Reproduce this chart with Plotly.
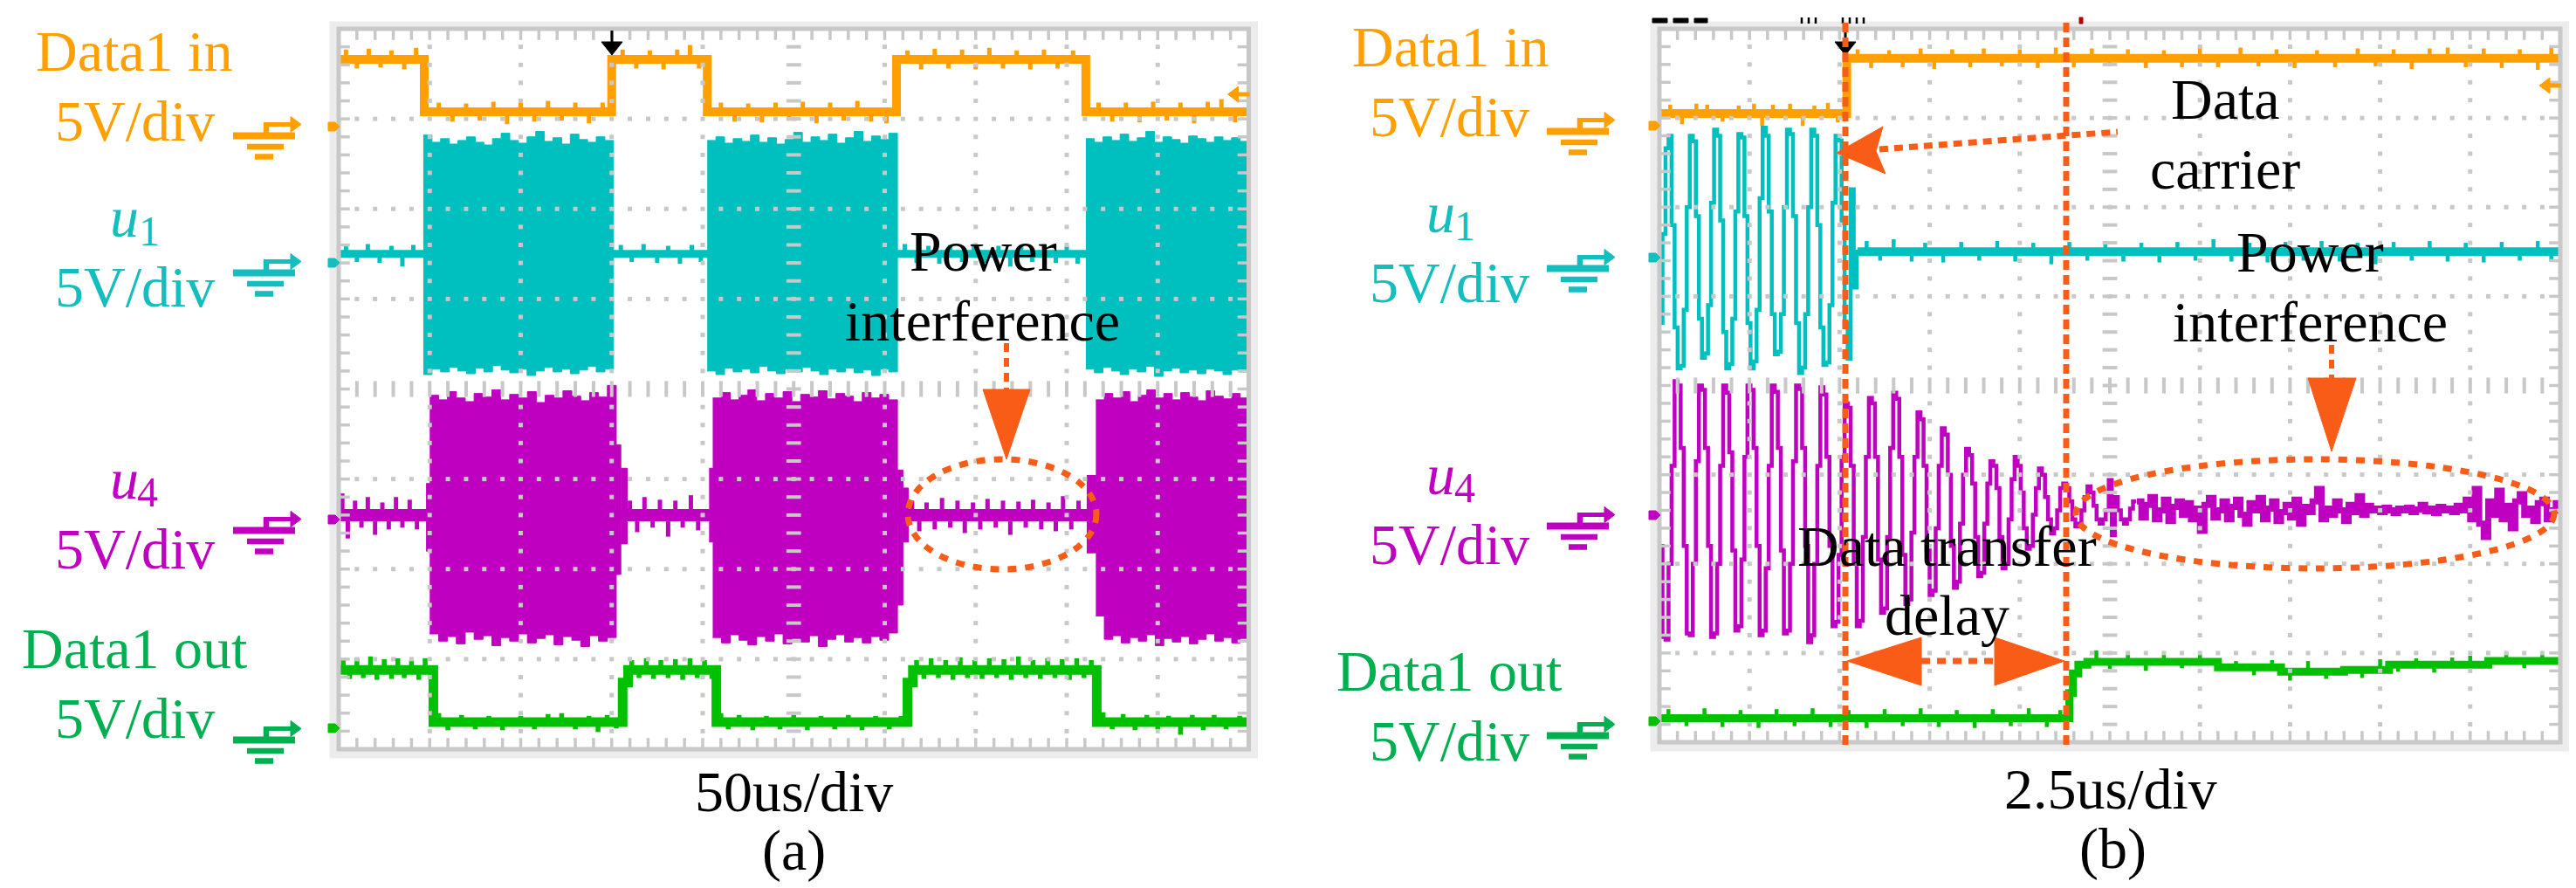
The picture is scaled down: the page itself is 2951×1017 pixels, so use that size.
import numpy as np
import plotly.graph_objects as go

W, H = 2951, 1017
SERIF = "Liberation Serif"
FS = 66

ORANGE, CYAN, CYAN_TXT = "#FFA000", "#00BFBF", "#14BDBE"
MAGENTA, GREEN, GREEN_TXT = "#C000C0", "#00C000", "#00B050"
ANN, GRID, BAND, BLACK = "#F85C16", "#C8C8C8", "#ECECEC", "#000000"

# frames in px (left, right, top, bottom); 10 x 8 divisions
FRAME_A = (380.0, 1422.5, 25.0, 850.0)
FRAME_B = (1893.0, 2925.0, 25.0, 842.0)

# ================= data, panel (a) 50us/div (screen divisions) =================
a_in_edges = [0, 0.94, 3.00, 4.05, 6.13, 8.21, 10]
a_in_levels = [7.66, 7.08, 7.66, 7.08, 7.66, 7.08]
a_in_spikes = [(0.08, 0.11), (0.2, -0.1), (0.33, 0.12), (0.46, -0.09), (0.58, 0.1), (0.72, -0.11), (0.85, 0.13),
               (1.1, 0.1), (1.25, -0.11), (1.4, 0.09), (1.55, -0.1), (1.7, 0.11), (1.85, -0.14), (2.0, 0.1),
               (2.15, -0.11), (2.3, 0.12), (2.45, -0.1), (2.6, 0.1), (2.75, -0.13), (2.9, 0.1),
               (3.12, 0.11), (3.27, -0.1), (3.42, 0.1), (3.57, -0.11), (3.72, 0.11), (3.86, 0.16), (3.96, -0.1),
               (4.2, 0.1), (4.35, -0.11), (4.5, 0.09), (4.65, -0.12), (4.8, 0.1), (4.95, -0.1), (5.1, 0.11),
               (5.25, -0.13), (5.4, 0.1), (5.55, -0.1), (5.7, 0.12), (5.85, -0.11), (6.02, -0.13),
               (6.25, 0.1), (6.4, -0.11), (6.55, 0.12), (6.7, -0.1), (6.85, 0.11), (7.0, -0.11), (7.15, 0.13),
               (7.3, -0.1), (7.45, 0.1), (7.6, -0.11), (7.75, 0.11), (7.9, -0.1), (8.07, 0.1),
               (8.35, 0.1), (8.5, -0.11), (8.65, 0.1), (8.8, -0.12), (8.95, 0.11), (9.1, -0.1), (9.25, 0.1),
               (9.4, -0.13), (9.55, 0.11), (9.7, 0.14), (9.85, -0.12)]

a_u1_edges = [0, 10]
a_u1_levels = [5.5]
a_u1_spikes = [(0.08, 0.1), (0.2, -0.09), (0.32, 0.11), (0.45, -0.1), (0.58, 0.09), (0.7, -0.14), (0.82, 0.1),
               (3.1, 0.1), (3.22, -0.09), (3.35, 0.11), (3.5, -0.1), (3.62, 0.09), (3.75, -0.11), (3.88, 0.1),
               (3.98, -0.09), (6.22, 0.11), (6.35, -0.1), (6.48, 0.09), (6.6, -0.11), (6.72, 0.1), (6.85, -0.09),
               (6.98, 0.11), (7.1, -0.1), (7.25, 0.09), (7.38, -0.14), (7.5, 0.1), (7.62, -0.09), (7.75, 0.11),
               (7.88, -0.1), (8.0, 0.09), (8.12, -0.11)]
# u1 carrier bursts: (start, end), top edge, bottom edge
a_u1_b1_span = (0.93, 3.02)
a_u1_b1_top = [6.82, 6.74, 6.78, 6.72, 6.76, 6.8, 6.74, 6.71, 6.78, 6.84, 6.76, 6.73, 6.8, 6.86, 6.75, 6.79,
               6.72, 6.83, 6.77, 6.74, 6.8, 6.76]
a_u1_b1_bot = [4.16, 4.22, 4.19, 4.24, 4.2, 4.17, 4.23, 4.19, 4.26, 4.21, 4.18, 4.22, 4.15, 4.2, 4.24, 4.19,
               4.22, 4.17, 4.21, 4.25, 4.19, 4.22]
a_u1_b2_span = (4.05, 6.14)
a_u1_b2_top = [6.76, 6.8, 6.73, 6.78, 6.75, 6.82, 6.74, 6.79, 6.72, 6.77, 6.85, 6.74, 6.8, 6.76, 6.83, 6.73,
               6.79, 6.86, 6.75, 6.81, 6.77, 6.84]
a_u1_b2_bot = [4.2, 4.16, 4.23, 4.19, 4.22, 4.18, 4.25, 4.2, 4.17, 4.22, 4.19, 4.24, 4.2, 4.16, 4.22, 4.19,
               4.23, 4.18, 4.21, 4.15, 4.22, 4.19]
a_u1_b3_span = (8.21, 10.0)
a_u1_b3_top = [6.78, 6.74, 6.8, 6.76, 6.83, 6.75, 6.79, 6.86, 6.74, 6.8, 6.77, 6.73, 6.81, 6.78, 6.74, 6.8,
               6.76, 6.79, 6.75]
a_u1_b3_bot = [4.22, 4.18, 4.24, 4.2, 4.16, 4.22, 4.19, 4.25, 4.14, 4.2, 4.23, 4.18, 4.21, 4.17, 4.22, 4.2,
               4.16, 4.21, 4.19]

a_u4_edges = [0, 10]
a_u4_levels = [2.6]
a_u4_spikes = [(0.04, 0.24), (0.1, -0.26), (0.18, 0.16), (0.25, -0.14), (0.32, 0.2), (0.4, -0.22), (0.48, 0.14),
               (0.55, -0.16), (0.63, 0.2), (0.7, -0.14), (0.78, 0.17), (0.86, -0.16),
               (3.2, 0.16), (3.28, -0.19), (3.36, 0.2), (3.45, -0.14), (3.53, 0.17), (3.62, -0.24), (3.7, 0.16),
               (3.78, -0.14), (3.87, 0.22), (3.95, -0.17),
               (6.3, 0.16), (6.38, -0.18), (6.46, 0.14), (6.55, -0.16), (6.63, 0.19), (6.72, -0.14), (6.8, 0.16),
               (6.88, -0.2), (6.97, 0.14), (7.05, -0.16), (7.13, 0.18), (7.22, -0.14), (7.3, 0.16), (7.38, -0.22),
               (7.47, 0.15), (7.55, -0.14), (7.63, 0.17), (7.72, -0.16), (7.8, 0.14), (7.88, -0.18), (7.96, 0.21),
               (8.05, -0.16), (8.13, 0.16)]
a_u4_b1_span = (1.0, 3.05)
a_u4_b1_top = [3.93, 3.88, 3.97, 3.9, 3.86, 3.95, 3.91, 3.99, 3.88, 3.94, 3.9, 3.97, 3.85, 3.93, 3.9, 3.98,
               3.92, 3.87, 3.96, 3.91, 4.04]
a_u4_b1_bot = [1.28, 1.2, 1.25, 1.17, 1.3, 1.22, 1.26, 1.15, 1.24, 1.2, 1.28, 1.18, 1.23, 1.27, 1.16, 1.25,
               1.21, 1.14, 1.26, 1.2, 1.24]
a_u4_b2_span = (4.11, 6.14)
a_u4_b2_top = [3.9, 3.96, 3.88, 3.93, 3.99, 3.87, 3.95, 3.9, 3.97, 3.86, 3.94, 3.91, 3.98, 3.89, 3.95, 3.92,
               3.86, 3.96, 3.9, 3.94, 3.88]
a_u4_b2_bot = [1.24, 1.18, 1.27, 1.21, 1.16, 1.25, 1.2, 1.28, 1.17, 1.23, 1.19, 1.26, 1.14, 1.22, 1.27, 1.19,
               1.24, 1.18, 1.25, 1.21, 1.29]
a_u4_b3_span = (8.32, 10.0)
a_u4_b3_top = [3.88, 3.95, 3.9, 3.97, 3.86, 3.93, 3.99, 3.9, 3.95, 3.88, 3.96, 3.91, 3.87, 3.98, 3.92, 3.89,
               3.95, 3.9]
a_u4_b3_bot = [1.48, 1.22, 1.26, 1.18, 1.24, 1.2, 1.27, 1.15, 1.23, 1.19, 1.25, 1.17, 1.22, 1.28, 1.2, 1.24,
               1.18, 1.23]
# narrow envelope pieces at burst edges: (x0, x1, top, bottom)
a_u4_edge_pieces = [(0.96, 1.0, 2.95, 2.2), (3.05, 3.1, 3.38, 1.94), (3.1, 3.17, 3.12, 2.28),
                    (4.07, 4.11, 3.12, 2.3), (6.14, 6.2, 3.1, 1.6), (6.2, 6.26, 2.9, 2.3),
                    (8.22, 8.32, 3.04, 2.18)]

a_out_edges = [0, 1.04, 3.12, 3.18, 4.15, 6.25, 6.31, 8.33, 10]
a_out_levels = [0.88, 0.3, 0.74, 0.88, 0.3, 0.74, 0.88, 0.3]
a_out_spikes = [(0.05, 0.11), (0.12, -0.1), (0.2, 0.13), (0.27, -0.09), (0.35, 0.15), (0.42, -0.11), (0.5, 0.12),
                (0.58, -0.1), (0.65, 0.13), (0.72, -0.09), (0.8, 0.11), (0.88, -0.11), (0.95, 0.13),
                (1.1, 0.1), (1.2, -0.09), (1.35, 0.08), (1.5, -0.08), (1.65, 0.07), (1.8, -0.09), (2.0, 0.07),
                (2.15, -0.08), (2.3, 0.09), (2.45, 0.1), (2.6, -0.08), (2.75, 0.07), (2.85, -0.11), (2.95, 0.08),
                (3.05, -0.07), (3.22, 0.11), (3.3, -0.09), (3.38, 0.13), (3.46, -0.1), (3.54, 0.11), (3.62, -0.09),
                (3.7, 0.12), (3.78, -0.11), (3.86, 0.13), (3.94, -0.09), (4.02, 0.11), (4.1, -0.1),
                (4.2, 0.1), (4.28, -0.08), (4.4, 0.08), (4.55, -0.09), (4.7, 0.07), (4.85, -0.08), (5.0, 0.08),
                (5.15, -0.09), (5.3, 0.07), (5.45, -0.08), (5.6, 0.08), (5.75, -0.09), (5.9, 0.07), (6.05, -0.08),
                (6.18, 0.07), (6.35, 0.11), (6.43, -0.1), (6.51, 0.13), (6.59, -0.09), (6.67, 0.11), (6.75, -0.11),
                (6.83, 0.14), (6.91, -0.09), (6.99, 0.11), (7.07, -0.1), (7.15, 0.13), (7.23, -0.09), (7.31, 0.12),
                (7.39, -0.11), (7.47, 0.15), (7.55, -0.09), (7.63, 0.11), (7.71, -0.1), (7.79, 0.13), (7.87, -0.09),
                (7.95, 0.12), (8.03, -0.11), (8.11, 0.13), (8.19, -0.09), (8.27, 0.11),
                (8.4, 0.11), (8.5, -0.08), (8.62, 0.09), (8.75, -0.09), (8.88, 0.08), (9.0, -0.08), (9.12, 0.07),
                (9.25, -0.14), (9.38, 0.08), (9.5, -0.09), (9.62, 0.08), (9.75, -0.08), (9.9, 0.07)]

# ================= data, panel (b) 2.5us/div (screen divisions) =================
b_sample_div = 0.0337  # scope sample spacing in the zoomed capture
b_in_edges = [0, 2.08, 10]
b_in_levels = [7.05, 7.67]
b_in_spikes = [(0.12, 0.1), (0.25, -0.12), (0.41, 0.11), (0.53, 0.1), (0.7, -0.09), (0.88, 0.09), (1.05, 0.11),
               (1.14, -0.14), (1.26, 0.1), (1.45, 0.11), (1.59, -0.14), (1.72, 0.09), (1.87, 0.12), (1.98, -0.1),
               (2.2, 0.1), (2.35, -0.11), (2.55, 0.09), (2.7, -0.1), (2.9, 0.11), (3.05, -0.12), (3.25, 0.1),
               (3.45, -0.1), (3.6, 0.11), (3.8, -0.09), (4.0, 0.1), (4.2, -0.11), (4.4, 0.12), (4.6, -0.1),
               (4.8, 0.11), (5.0, -0.09), (5.2, 0.1), (5.4, -0.11), (5.6, 0.09), (5.8, -0.1), (6.0, 0.15),
               (6.2, -0.1), (6.45, 0.12), (6.65, -0.09), (6.85, 0.1), (7.05, -0.11), (7.3, 0.09), (7.5, -0.1),
               (7.75, 0.11), (7.95, -0.09), (8.15, 0.1), (8.35, -0.12), (8.55, 0.11), (8.75, 0.12), (8.95, -0.1),
               (9.15, 0.11), (9.35, -0.11), (9.55, 0.1), (9.75, -0.13), (9.9, 0.12)]

b_u1_carrier = [4.7, 5.7, 6.66, 6.8, 5.8, 4.65, 4.19, 4.22,
                4.85, 6.0, 6.8, 6.74, 5.9, 4.75, 4.31, 4.36,
                4.9, 6.05, 6.87, 6.8, 5.85, 4.6, 4.19, 4.24,
                4.75, 5.95, 6.82, 6.78, 5.9, 4.7, 4.19, 4.27,
                4.85, 6.1, 6.89, 6.8, 5.95, 4.8, 4.35, 4.38,
                4.8, 6.0, 6.87, 6.82, 5.9, 4.7, 4.14, 4.2,
                4.8, 6.0, 6.87, 6.8, 5.8, 4.65, 4.23, 4.26,
                4.9, 6.05, 6.8, 6.75, 5.85, 4.7, 4.3, 6.2, 5.1, 5.5]
b_u1_edges = [2.2, 10]
b_u1_levels = [5.5]
b_u1_spikes = [(2.3, 0.12), (2.45, -0.1), (2.6, 0.14), (2.8, -0.11), (2.95, 0.1), (3.15, -0.12), (3.35, 0.11),
               (3.55, -0.1), (3.75, 0.12), (3.95, -0.11), (4.15, 0.1), (4.35, -0.14), (4.55, 0.11), (4.75, -0.1),
               (4.95, 0.12), (5.15, -0.11), (5.35, 0.1), (5.55, -0.12), (5.75, 0.11), (5.95, -0.1), (6.15, 0.14),
               (6.35, -0.11), (6.55, 0.1), (6.75, -0.12), (6.95, 0.11), (7.15, -0.1), (7.35, 0.12), (7.55, -0.11),
               (7.75, 0.1), (7.95, -0.14), (8.15, 0.11), (8.35, -0.1), (8.55, 0.12), (8.75, -0.11), (8.95, 0.1),
               (9.15, -0.12), (9.35, 0.11), (9.55, -0.1), (9.75, 0.12), (9.9, -0.11)]

b_u4_carrier = [2.2, 1.18, 1.15, 2.0, 3.1,
                4.05, 4.0, 3.3, 2.2, 1.22, 1.2, 2.0, 3.15,
                4.0, 3.95, 3.3, 2.2, 1.18, 1.22, 2.0, 3.1,
                4.0, 3.92, 3.25, 2.15, 1.25, 1.3, 2.05, 3.2,
                4.0, 3.95, 3.3, 2.2, 1.2, 1.25, 1.95, 3.1,
                4.0, 3.93, 3.3, 2.15, 1.22, 1.25, 2.0, 3.15,
                4.0, 3.96, 3.3, 2.2, 1.12, 1.2, 2.0, 3.1,
                3.98, 3.9, 3.2, 2.2, 1.3, 1.35, 2.1, 3.2,
                3.8, 3.75, 3.1, 2.0, 1.3, 1.36, 2.3, 3.2,
                3.86, 3.8, 3.2, 2.05, 1.45, 1.5, 2.3, 3.3,
                3.92, 3.85, 3.2, 2.1, 1.55, 1.6, 2.35, 3.2,
                3.7, 3.62, 3.1, 2.15, 1.65, 1.7, 2.4, 3.1,
                3.52, 3.45, 3.0, 2.2, 1.73, 1.8, 2.45, 3.0,
                3.29, 3.22, 2.9, 2.3, 1.86, 1.9, 2.45, 2.9,
                3.15, 3.1, 2.85, 2.3, 1.95, 2.0, 2.5, 2.95,
                3.2, 3.1, 2.8, 2.4, 2.17, 2.2, 2.55, 2.85,
                3.07, 3.0, 2.75, 2.5, 2.34, 2.4, 2.6, 2.85,
                2.9, 2.85, 2.7, 2.5, 2.42, 2.45, 2.6, 2.75,
                2.87, 2.8, 2.65, 2.5, 2.45, 2.5, 2.6, 2.94,
                2.32, 2.75, 2.6, 2.5, 2.45, 2.5, 2.62, 2.7]
b_u4_tail_start, b_u4_tail_step = 5.3, 0.05
b_u4_tail = [2.7, 2.52, 2.66, 2.75, 2.5, 2.6, 2.72, 2.48, 2.64, 2.7,
             2.55, 2.68, 2.5, 2.62, 2.37, 2.66, 2.74, 2.52, 2.6, 2.7,
             2.5, 2.64, 2.72, 2.55, 2.45, 2.68, 2.6, 2.74, 2.5, 2.62,
             2.7, 2.48, 2.58, 2.66, 2.52, 2.72, 2.45, 2.64, 2.58, 2.7,
             2.84, 2.5, 2.62, 2.55, 2.7, 2.6, 2.48, 2.66, 2.58, 2.76,
             2.55, 2.65, 2.6, 2.62, 2.58, 2.63, 2.6, 2.57, 2.62, 2.6,
             2.63, 2.58, 2.61, 2.66, 2.59, 2.62, 2.57, 2.64, 2.6, 2.62,
             2.58, 2.65, 2.6, 2.72, 2.5, 2.84, 2.45, 2.3, 2.7, 2.55,
             2.82, 2.5, 2.65, 2.4, 2.7, 2.78, 2.55, 2.62, 2.48, 2.68,
             2.72, 2.5, 2.6, 2.68, 2.56]

b_out_edges = [0, 4.55, 4.59, 4.65, 4.75, 6.2, 6.9, 7.6, 8.1, 9.2, 10]
b_out_levels = [0.27, 0.55, 0.77, 0.87, 0.9, 0.84, 0.79, 0.81, 0.87, 0.91]
b_out_spikes = [(0.1, 0.1), (0.3, -0.09), (0.5, 0.11), (0.7, -0.1), (0.9, 0.09), (1.1, -0.11), (1.3, 0.1),
                (1.5, -0.09), (1.7, 0.11), (1.9, -0.1), (2.1, 0.09), (2.3, -0.11), (2.5, 0.1), (2.7, -0.09),
                (2.9, 0.11), (3.1, -0.1), (3.3, 0.09), (3.5, -0.11), (3.7, 0.1), (3.9, -0.09), (4.1, 0.11),
                (4.3, -0.1), (4.45, 0.09), (4.85, 0.13), (5.0, -0.08), (5.2, 0.09), (5.4, -0.1), (5.6, 0.08),
                (5.8, -0.07), (6.0, 0.09), (6.2, -0.08), (6.4, 0.07), (6.6, -0.09), (6.8, 0.08), (7.0, -0.1),
                (7.2, 0.12), (7.4, -0.08), (7.6, 0.07), (7.8, -0.09), (8.0, 0.12), (8.2, -0.08), (8.4, 0.07),
                (8.6, -0.09), (8.8, 0.08), (9.0, 0.1), (9.2, -0.07), (9.4, 0.09), (9.6, -0.08), (9.8, 0.07)]

# ================= helpers =================
def PX(x):
    return x / W


def PY(y):
    return 1 - y / H


def steps(edges, levels):
    xs, ys = list(edges[:-1]), list(levels)
    xs.append(edges[-1]); ys.append(levels[-1])
    return xs, ys


def spike_segs(edges, levels, spikes):
    xs, ys = [], []
    for sx, dy in spikes:
        for i, lv in enumerate(levels):
            if edges[i] < sx < edges[i + 1]:
                xs += [sx, sx, None]; ys += [lv, lv + dy, None]
    return xs, ys


def block(x0, x1, tops, bots):
    n = len(tops)
    xe = np.linspace(x0, x1, n + 1)
    px, py = [], []
    for i in range(n):
        px += [xe[i], xe[i + 1]]; py += [tops[i], tops[i]]
    for i in reversed(range(n)):
        px += [xe[i + 1], xe[i]]; py += [bots[i], bots[i]]
    return px, py


fig = go.Figure()


def add_line(xs, ys, color, width, ax, shape="hv"):
    xa, ya = ("x", "y") if ax == "a" else ("x2", "y2")
    fig.add_trace(go.Scatter(x=xs, y=ys, mode="lines", line=dict(color=color, width=width, shape=shape),
                             xaxis=xa, yaxis=ya, hoverinfo="skip"))


def add_block(px, py, color, ax):
    xa, ya = ("x", "y") if ax == "a" else ("x2", "y2")
    fig.add_trace(go.Scatter(x=px, y=py, mode="lines", fill="toself", fillcolor=color,
                             line=dict(color=color, width=1), xaxis=xa, yaxis=ya, hoverinfo="skip"))


def add_digital(edges, levels, spikes, color, width, ax, spike_w=5):
    add_line(*steps(edges, levels), color, width, ax)
    add_line(*spike_segs(edges, levels, spikes), color, spike_w, ax, shape="linear")


# ----- panel a traces -----
add_digital(a_in_edges, a_in_levels, a_in_spikes, ORANGE, 10, "a")
add_digital(a_u1_edges, a_u1_levels, a_u1_spikes, CYAN, 9, "a")
for span, t, b in [(a_u1_b1_span, a_u1_b1_top, a_u1_b1_bot), (a_u1_b2_span, a_u1_b2_top, a_u1_b2_bot),
                   (a_u1_b3_span, a_u1_b3_top, a_u1_b3_bot)]:
    add_block(*block(span[0], span[1], t, b), CYAN, "a")
add_digital(a_u4_edges, a_u4_levels, a_u4_spikes, MAGENTA, 14, "a", 5)
for span, t, b in [(a_u4_b1_span, a_u4_b1_top, a_u4_b1_bot), (a_u4_b2_span, a_u4_b2_top, a_u4_b2_bot),
                   (a_u4_b3_span, a_u4_b3_top, a_u4_b3_bot)]:
    add_block(*block(span[0], span[1], t, b), MAGENTA, "a")
for x0, x1, t, b in a_u4_edge_pieces:
    add_block(*block(x0, x1, [t], [b]), MAGENTA, "a")
add_digital(a_out_edges, a_out_levels, a_out_spikes, GREEN, 11, "a", 5.5)

# ----- panel b traces -----
add_digital(b_in_edges, b_in_levels, b_in_spikes, ORANGE, 10, "b", 4.5)
u1x = [k * b_sample_div for k in range(len(b_u1_carrier) + 1)]
add_line(u1x, b_u1_carrier + [b_u1_carrier[-1]], CYAN, 4.5, "b")
add_digital(b_u1_edges, b_u1_levels, b_u1_spikes, CYAN, 10, "b", 4.5)
u4x = [k * b_sample_div for k in range(len(b_u4_carrier) + 1)]
add_line(u4x, b_u4_carrier + [b_u4_tail[0]], MAGENTA, 4.5, "b")
tx = [b_u4_tail_start + j * b_u4_tail_step for j in range(len(b_u4_tail))]
add_line(tx, b_u4_tail, MAGENTA, 7, "b")
add_digital(b_out_edges, b_out_levels, b_out_spikes, GREEN, 9, "b", 4.5)


# ----- graticule (drawn over the traces, like the scope screen) -----
def graticule(ax, fr):
    xa, ya = ("x", "y") if ax == "a" else ("x2", "y2")
    L, R, T, B = fr
    sx, sy = (R - L) / 10, (B - T) / 8
    mx = [j * 0.2 for j in range(1, 50)]
    my = [j * 0.2 for j in range(1, 40)]
    hx, hy = [], []
    for k in [1, 2, 3, 5, 6, 7]:
        hx += mx; hy += [k] * len(mx)
    for k in [1, 2, 3, 4, 6, 7, 8, 9]:
        for y in my:
            if abs(y - round(y)) > 1e-6:
                hx.append(k); hy.append(y)
    common = dict(mode="markers", xaxis=xa, yaxis=ya, hoverinfo="skip", cliponaxis=False)
    fig.add_trace(go.Scatter(x=hx, y=hy, marker=dict(symbol="square", size=5, color=GRID, line=dict(width=0)), **common))
    fig.add_trace(go.Scatter(x=mx, y=[4] * len(mx), marker=dict(symbol="line-ns", size=13, line=dict(width=4, color=GRID)), **common))
    fig.add_trace(go.Scatter(x=[5] * len(my), y=my, marker=dict(symbol="line-ew", size=12, line=dict(width=4, color=GRID)), **common))
    oy, ox = 6.5 / sy, 6.5 / sx
    ex = mx + mx + [ox] * len(my) + [10 - ox] * len(my)
    ey = [8 - oy] * len(mx) + [oy] * len(mx) + my + my
    sym = ["line-ns"] * (2 * len(mx)) + ["line-ew"] * (2 * len(my))
    fig.add_trace(go.Scatter(x=ex, y=ey, marker=dict(symbol=sym, size=9, line=dict(width=3.5, color=GRID)), **common))


graticule("a", FRAME_A)
graticule("b", FRAME_B)

# ================= shapes (px based) =================
shapes = []


def sline(x0, y0, x1, y1, color, width, dash=None):
    shapes.append(dict(type="line", xref="paper", yref="paper", x0=PX(x0), y0=PY(y0), x1=PX(x1), y1=PY(y1),
                       line=dict(color=color, width=width, dash=dash), layer="above"))


def spath(pts, color):
    d = "M " + " L ".join(f"{PX(x):.6f},{PY(y):.6f}" for x, y in pts) + " Z"
    shapes.append(dict(type="path", xref="paper", yref="paper", path=d, fillcolor=color,
                       line=dict(color=color, width=1), layer="above"))


def srect(x0, y0, x1, y1, color, width, fill=None):
    shapes.append(dict(type="rect", xref="paper", yref="paper", x0=PX(x0), y0=PY(y0), x1=PX(x1), y1=PY(y1),
                       line=dict(color=color, width=width), fillcolor=fill or "rgba(0,0,0,0)", layer="above"))


def sellipse(x0, y0, x1, y1, color, width, dash):
    shapes.append(dict(type="circle", xref="paper", yref="paper", x0=PX(x0), y0=PY(y0), x1=PX(x1), y1=PY(y1),
                       line=dict(color=color, width=width, dash=dash), layer="above"))


for (L, R, T, B) in (FRAME_A, FRAME_B):
    srect(L - 6, T - 4, R + 6, B + 6, BAND, 9)
    srect(L, T, R, B, GRID, 5)


def ground(ox, oy, color):
    sline(ox, oy + 22.5, ox + 71, oy + 22.5, color, 8)
    sline(ox + 16, oy + 35, ox + 58, oy + 35, color, 6.5)
    sline(ox + 25, oy + 46.5, ox + 46, oy + 46.5, color, 6.5)
    sline(ox + 38, oy + 8, ox + 38, oy + 22, color, 6.5)
    sline(ox + 35, oy + 9.5, ox + 70, oy + 9.5, color, 5)
    spath([(ox + 66, oy + 0.5), (ox + 78, oy + 9.5), (ox + 66, oy + 18.5)], color)


def tab(x_edge, y, color):
    spath([(x_edge - 12, y - 5), (x_edge - 4, y - 5), (x_edge + 1, y), (x_edge - 4, y + 5), (x_edge - 12, y + 5)], color)


for (gx, gys, fr, tabs) in [(259, [125, 282, 577, 817], FRAME_A, [137, 293, 587, 826]),
                            (1764, [120, 277, 572, 812], FRAME_B, [136, 287, 582, 818])]:
    for gy, ty, col in zip(gys, tabs, [ORANGE, CYAN_TXT, MAGENTA, GREEN_TXT]):
        ground(gx, gy, col)
        tab(fr[0], ty, col if col != GREEN_TXT else GREEN)

# right-side orange markers and trigger arrows
for (xr, yc) in [(1422.5, 100), (2925, 90)]:
    spath([(xr - 24, yc), (xr - 12, yc - 9), (xr - 12, yc + 9)], ORANGE)
    sline(xr - 13, yc, xr + 1, yc, ORANGE, 5)
for xt in (693, 2106):
    sline(xt, 27, xt, 43, BLACK, 3)
    spath([(xt - 12, 40), (xt + 12, 40), (xt, 55)], BLACK)
# scope status marks above panel b
for x0, x1 in [(1885, 1902), (1909, 1926), (1933, 1948)]:
    srect(x0, 13, x1, 18, BLACK, 1, BLACK)
for xk in [2056, 2064, 2072, 2103, 2111, 2119, 2127]:
    sline(xk, 12, xk, 19, BLACK, 2.5)
srect(2374, 12, 2378, 19, "#B00000", 1, "#B00000")

# ---- panel a annotations ----
sline(1145, 385, 1145, 438, ANN, 6, "10px,7px")
spath([(1118, 438), (1172, 438), (1145, 518)], ANN)
sellipse(1032, 518, 1248, 644, ANN, 7, "10px,10px")

# ---- panel b annotations ----
for xv in (2106, 2359):
    sline(xv, 18, xv, 848, ANN, 7, "11px,6px")
spath([(2096, 167), (2149, 137), (2141, 165), (2152, 191)], ANN)
sline(2145, 163, 2418, 143, ANN, 7, "10px,7px")
sline(2663, 387, 2663, 425, ANN, 6, "10px,7px")
spath([(2636, 425), (2691, 425), (2663, 509)], ANN)
sellipse(2370, 518, 2918, 643, ANN, 7, "10px,10px")
spath([(2108, 749), (2193, 722), (2193, 777)], ANN)
spath([(2357, 749), (2277, 722), (2277, 777)], ANN)
sline(2193, 749, 2277, 749, ANN, 7, "10px,8px")

# ================= text =================
annots = []


def txt(s, cx, base, color=BLACK, size=FS):
    annots.append(dict(text=s, x=PX(cx), y=PY(base - 0.3375 * size), xref="paper", yref="paper",
                       xanchor="center", yanchor="middle", showarrow=False,
                       font=dict(family=SERIF, size=size, color=color)))


# panel a labels
txt("Data1 in", 145, 73, ORANGE)
txt("5V/div", 146, 153, ORANGE)
txt("<i>u</i>", 134.5, 263, CYAN_TXT)
txt("1", 162.5, 273, CYAN_TXT, 48)
txt("5V/div", 146, 343, CYAN_TXT)
txt("<i>u</i>", 134.5, 563, MAGENTA)
txt("4", 161, 572, MAGENTA, 48)
txt("5V/div", 146, 643, MAGENTA)
txt("Data1 out", 145.5, 757, GREEN_TXT)
txt("5V/div", 146, 837, GREEN_TXT)
# panel b labels
txt("Data1 in", 1653.5, 68, ORANGE)
txt("5V/div", 1652, 148, ORANGE)
txt("<i>u</i>", 1642.5, 258, CYAN_TXT)
txt("1", 1670.5, 267, CYAN_TXT, 48)
txt("5V/div", 1652, 338, CYAN_TXT)
txt("<i>u</i>", 1642.5, 558, MAGENTA)
txt("4", 1670, 567, MAGENTA, 48)
txt("5V/div", 1652, 638, MAGENTA)
txt("Data1 out", 1652, 783, GREEN_TXT)
txt("5V/div", 1652, 863, GREEN_TXT)
# annotations
txt("Power", 1118.5, 302)
txt("interference", 1117, 382)
txt("50us/div", 901.5, 921)
txt("(a)", 901.5, 988)
txt("Data", 2541, 128)
txt("carrier", 2541, 208)
txt("Power", 2638, 303)
txt("interference", 2638, 383)
txt("Data transfer", 2222, 640)
txt("delay", 2222, 719)
txt("2.5us/div", 2409.5, 918)
txt("(b)", 2412, 986)

ax_common = dict(range=[0, 10], visible=False, fixedrange=True)
ay_common = dict(range=[0, 8], visible=False, fixedrange=True)
fig.update_layout(
    width=W, height=H, margin=dict(l=0, r=0, t=0, b=0),
    paper_bgcolor="white", plot_bgcolor="white", showlegend=False,
    xaxis=dict(domain=[PX(FRAME_A[0]), PX(FRAME_A[1])], anchor="y", **ax_common),
    yaxis=dict(domain=[PY(FRAME_A[3]), PY(FRAME_A[2])], anchor="x", **ay_common),
    xaxis2=dict(domain=[PX(FRAME_B[0]), PX(FRAME_B[1])], anchor="y2", **ax_common),
    yaxis2=dict(domain=[PY(FRAME_B[3]), PY(FRAME_B[2])], anchor="x2", **ay_common),
    shapes=shapes, annotations=annots,
)
fig.write_html("out.html")
